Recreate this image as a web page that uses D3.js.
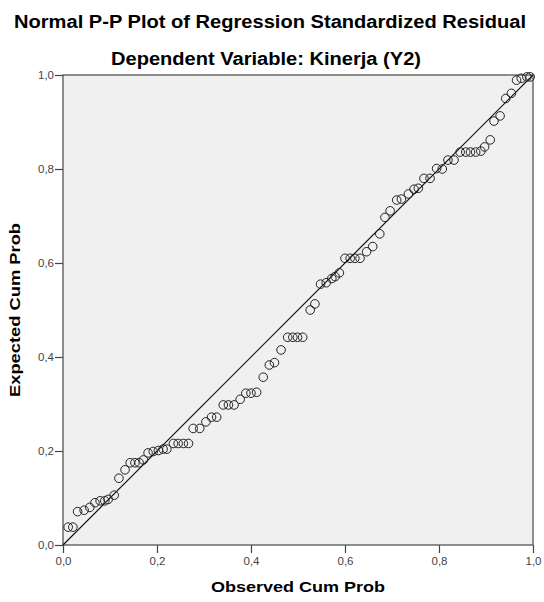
<!DOCTYPE html>
<html>
<head>
<meta charset="utf-8">
<script src="https://cdn.jsdelivr.net/npm/d3@7"></script>
<style>
  html, body { margin: 0; padding: 0; background: #fff; }
  svg { display: block; }
</style>
</head>
<body>
<div id="chart"></div>
<script>
// ---- data ----
const titleText = "Normal P-P Plot of Regression Standardized Residual";
const subtitleText = "Dependent Variable: Kinerja (Y2)";
const xAxisTitle = "Observed Cum Prob";
const yAxisTitle = "Expected Cum Prob";
const tickValues = [0, 0.2, 0.4, 0.6, 0.8, 1.0];

const observedCumProb = [
  0.011, 0.021, 0.031, 0.045, 0.057, 0.068, 0.079, 0.089, 0.096, 0.109,
  0.119, 0.132, 0.143, 0.153, 0.162, 0.171, 0.181, 0.192, 0.203, 0.213,
  0.221, 0.235, 0.245, 0.256, 0.267, 0.277, 0.291, 0.304, 0.316, 0.327,
  0.341, 0.352, 0.364, 0.377, 0.389, 0.400, 0.412, 0.426, 0.439, 0.450,
  0.464, 0.478, 0.489, 0.499, 0.510, 0.526, 0.536, 0.548, 0.560, 0.572,
  0.579, 0.588, 0.600, 0.611, 0.621, 0.632, 0.646, 0.659, 0.674, 0.685,
  0.696, 0.710, 0.720, 0.735, 0.747, 0.756, 0.768, 0.781, 0.795, 0.807,
  0.819, 0.832, 0.845, 0.857, 0.867, 0.878, 0.889, 0.897, 0.909, 0.917,
  0.930, 0.942, 0.954, 0.965, 0.975, 0.987, 0.994
];
const expectedCumProb = [
  0.038, 0.038, 0.071, 0.074, 0.080, 0.090, 0.094, 0.094, 0.097, 0.106,
  0.142, 0.160, 0.175, 0.175, 0.175, 0.181, 0.196, 0.199, 0.201, 0.204,
  0.204, 0.216, 0.216, 0.216, 0.216, 0.248, 0.248, 0.262, 0.272, 0.272,
  0.298, 0.298, 0.298, 0.310, 0.323, 0.323, 0.325, 0.357, 0.383, 0.388,
  0.415, 0.442, 0.442, 0.442, 0.442, 0.500, 0.513, 0.555, 0.558, 0.567,
  0.571, 0.579, 0.610, 0.610, 0.610, 0.610, 0.624, 0.635, 0.662, 0.697,
  0.711, 0.734, 0.736, 0.747, 0.757, 0.759, 0.780, 0.780, 0.801, 0.800,
  0.819, 0.819, 0.836, 0.836, 0.836, 0.836, 0.838, 0.847, 0.862, 0.902,
  0.913, 0.950, 0.961, 0.989, 0.993, 0.996, 0.996
];
const referenceLine = [[0, 0], [1, 1]];

// ---- layout ----
const W = 544, H = 602;
const plot = { left: 63, right: 533, top: 75, bottom: 545 };
const font = "'Liberation Sans', Arial, Helvetica, sans-serif";

const svg = d3.select("#chart").append("svg")
  .attr("width", W).attr("height", H)
  .style("font-family", font);

svg.append("rect").attr("width", W).attr("height", H).attr("fill", "#fff");

const x = d3.scaleLinear().domain([0, 1]).range([plot.left, plot.right]);
const y = d3.scaleLinear().domain([0, 1]).range([plot.bottom, plot.top]);

// plot background
svg.append("rect")
  .attr("x", plot.left).attr("y", plot.top)
  .attr("width", plot.right - plot.left).attr("height", plot.bottom - plot.top)
  .attr("fill", "#f0f0f0");

const fmt = v => d3.format(".1f")(v).replace(".", ",");

// axes
const xAxis = svg.append("g")
  .attr("transform", `translate(0,${plot.bottom})`)
  .call(d3.axisBottom(x).tickValues(tickValues).tickFormat(fmt).tickSize(8).tickSizeOuter(0));
const yAxis = svg.append("g")
  .attr("transform", `translate(${plot.left},0)`)
  .call(d3.axisLeft(y).tickValues(tickValues).tickFormat(fmt).tickSize(8).tickSizeOuter(0));

[xAxis, yAxis].forEach(g => {
  g.select(".domain").remove();
  g.selectAll(".tick line").attr("stroke", "#444").attr("stroke-width", 1.2);
  g.selectAll(".tick text")
    .attr("fill", "#444")
    .style("font-family", font)
    .style("font-size", "11.5px");
});
xAxis.selectAll(".tick text").attr("dy", "0.95em").attr("y", 9);
yAxis.selectAll(".tick text").attr("x", -9);

// frame
svg.append("rect")
  .attr("x", plot.left).attr("y", plot.top)
  .attr("width", plot.right - plot.left).attr("height", plot.bottom - plot.top)
  .attr("fill", "none").attr("stroke", "#555").attr("stroke-width", 1.3);

// reference line
svg.append("path")
  .datum(referenceLine)
  .attr("d", d3.line().x(d => x(d[0])).y(d => y(d[1])))
  .attr("stroke", "#111").attr("stroke-width", 1.2).attr("fill", "none");

// points
const pts = observedCumProb.map((v, i) => ({ obs: v, exp: expectedCumProb[i] }));
svg.append("g").selectAll("circle")
  .data(pts).join("circle")
  .attr("cx", d => x(d.obs))
  .attr("cy", d => y(d.exp))
  .attr("r", 4.3)
  .attr("fill", "none")
  .attr("stroke", "#222")
  .attr("stroke-width", 1);

// titles
svg.append("text")
  .attr("x", 270).attr("y", 28)
  .attr("text-anchor", "middle")
  .attr("textLength", 512).attr("lengthAdjust", "spacingAndGlyphs")
  .style("font-size", "18px").style("font-weight", "bold")
  .attr("fill", "#000")
  .text(titleText);
svg.append("text")
  .attr("x", 266).attr("y", 65)
  .attr("text-anchor", "middle")
  .attr("textLength", 310).attr("lengthAdjust", "spacingAndGlyphs")
  .style("font-size", "18px").style("font-weight", "bold")
  .attr("fill", "#000")
  .text(subtitleText);

svg.append("text")
  .attr("x", (plot.left + plot.right) / 2).attr("y", 592)
  .attr("text-anchor", "middle")
  .attr("textLength", 174).attr("lengthAdjust", "spacingAndGlyphs")
  .style("font-size", "15px").style("font-weight", "bold")
  .attr("fill", "#000")
  .text(xAxisTitle);
svg.append("text")
  .attr("transform", `translate(20,${(plot.top + plot.bottom) / 2}) rotate(-90)`)
  .attr("text-anchor", "middle")
  .attr("textLength", 174).attr("lengthAdjust", "spacingAndGlyphs")
  .style("font-size", "15px").style("font-weight", "bold")
  .attr("fill", "#000")
  .text(yAxisTitle);
</script>
</body>
</html>
